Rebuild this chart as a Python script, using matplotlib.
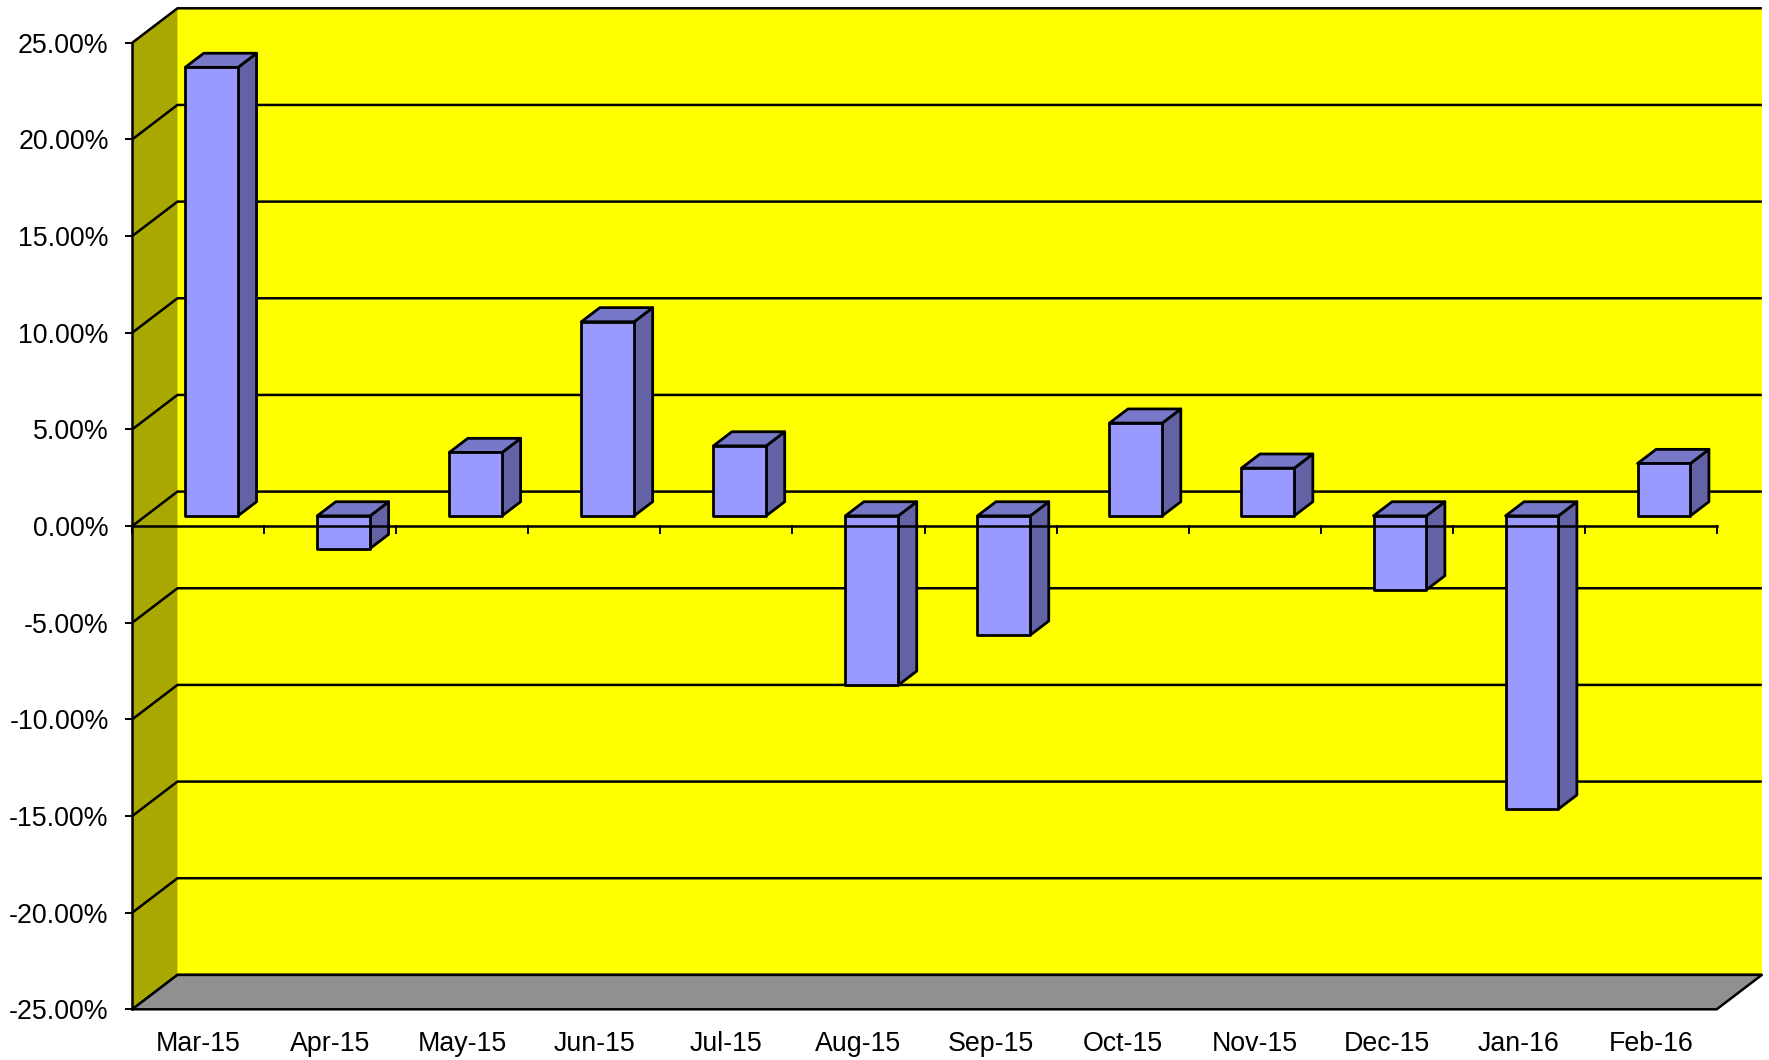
import matplotlib
matplotlib.use("Agg")
import matplotlib.pyplot as plt
from matplotlib.patches import Polygon

plt.rcParams['font.family'] = ['Liberation Sans', 'DejaVu Sans']

# ---- data ----
categories = ["Mar-15", "Apr-15", "May-15", "Jun-15", "Jul-15", "Aug-15",
              "Sep-15", "Oct-15", "Nov-15", "Dec-15", "Jan-16", "Feb-16"]
values = [23.20, -1.69, 3.28, 10.04, 3.62, -8.76,
          -6.17, 4.80, 2.47, -3.83, -15.17, 2.71]
y_ticks = [-25, -20, -15, -10, -5, 0, 5, 10, 15, 20, 25]
y_tick_labels = ["%.2f%%" % t for t in y_ticks]

# ---- styling / geometry ----
W, H = 1769, 1060
DX = 0.342        # depth offset in category units
DY = 1.78         # depth offset in % units
BAR_W = 0.4
D_FRONT, D_BACK = 0.295, 0.705
BACK = "#FFFF00"
SIDE = "#A8A800"
FLOOR = "#909090"
BAR_FRONT = "#9999FF"
BAR_TOP = "#7878C8"
BAR_SIDE = "#6262A4"
LW = 1.8
FS = 19.3

fig = plt.figure(figsize=(W / 100, H / 100), dpi=100)
left_px, right_px = 132.3, 1716.7
top_px, bot_px = 42.7, 1009.3
ax = fig.add_axes([left_px / W, (H - bot_px) / H,
                   (right_px - left_px) / W, (bot_px - top_px) / H])
n = len(categories)
ymin, ymax = y_ticks[0], y_ticks[-1]
ax.set_xlim(0, n)
ax.set_ylim(ymin, ymax)
ax.patch.set_visible(False)
for s in ax.spines.values():
    s.set_visible(False)


def P(x, y, d):
    return (x + d * DX, y + d * DY)


def poly(pts, fc, z, ec="black", lw=LW):
    p = Polygon(pts, closed=True, facecolor=fc, edgecolor=ec, linewidth=lw,
                zorder=z, clip_on=False, joinstyle="round")
    ax.add_patch(p)


# back wall
poly([P(0, ymin, 1), P(n, ymin, 1), P(n, ymax, 1), P(0, ymax, 1)], BACK, 1, ec="none")
# side wall
poly([P(0, ymin, 0), P(0, ymin, 1), P(0, ymax, 1), P(0, ymax, 0)], SIDE, 1, ec="none")
# gridlines on back and side walls
for t in y_ticks:
    xs = [0, DX, n + DX]
    ys = [t, t + DY, t + DY]
    ax.plot(xs, ys, color="black", lw=LW, zorder=2, clip_on=False,
            solid_capstyle="butt")
# floor
poly([P(0, ymin, 0), P(n, ymin, 0), P(n, ymin, 1), P(0, ymin, 1)], FLOOR, 3)

# bars
for i, v in enumerate(values):
    xl = i + 0.5 - BAR_W / 2
    xr = i + 0.5 + BAR_W / 2
    lo, hi = min(0, v), max(0, v)
    z = 5
    poly([P(xr, lo, D_FRONT), P(xr, hi, D_FRONT), P(xr, hi, D_BACK), P(xr, lo, D_BACK)],
         BAR_SIDE, z, lw=2.0)
    poly([P(xl, hi, D_FRONT), P(xr, hi, D_FRONT), P(xr, hi, D_BACK), P(xl, hi, D_BACK)],
         BAR_TOP, z, lw=2.0)
    poly([P(xl, lo, D_FRONT), P(xr, lo, D_FRONT), P(xr, hi, D_FRONT), P(xl, hi, D_FRONT)],
         BAR_FRONT, z + 0.1, lw=2.0)

# front zero axis with ticks at category boundaries
ax.plot([0, n], [0, 0], color="black", lw=LW, zorder=8, clip_on=False)
tick_len = 7 * (ymax - ymin) / (bot_px - top_px)
for k in range(n + 1):
    ax.plot([k, k], [0, -tick_len], color="black", lw=1.4, zorder=8, clip_on=False)

# front vertical axis
ax.plot([0, 0], [ymin, ymax], color="black", lw=LW, zorder=8, clip_on=False)

ax.set_yticks(y_ticks)
ax.set_yticklabels(y_tick_labels, fontsize=FS)
ax.tick_params(axis="y", direction="out", length=5, width=1.4, pad=12,
               color="black")
ax.set_xticks([i + 0.5 for i in range(n)])
ax.set_xticklabels(categories, fontsize=FS)
ax.tick_params(axis="x", length=0, pad=15.5)

fig.savefig("out.png", dpi=100, facecolor="white")
